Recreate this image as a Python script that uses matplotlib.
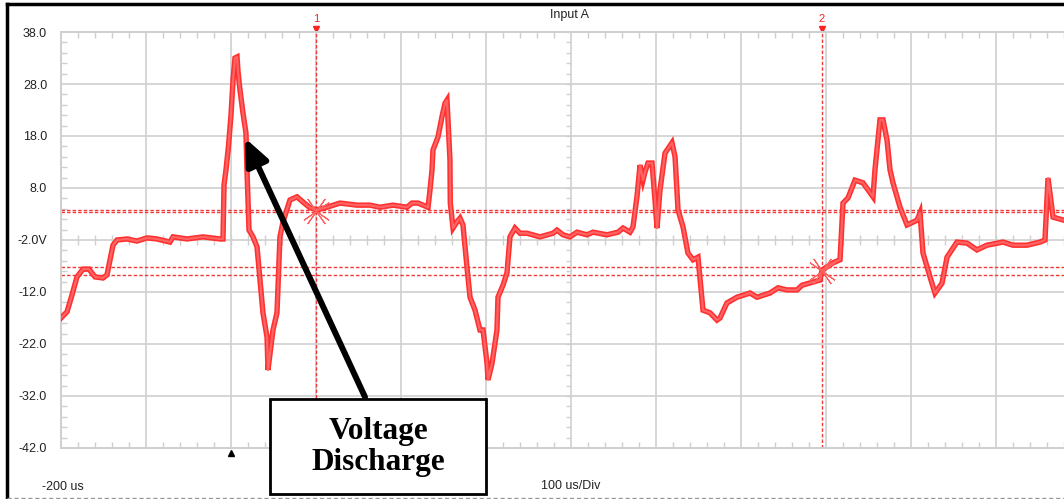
import numpy as np
import matplotlib.pyplot as plt
from matplotlib.lines import Line2D
from matplotlib.patches import Rectangle
from matplotlib.transforms import offset_copy

# ---- trace (time in us, volts) ----
t_us = [-200, -192.9, -187.1, -181.2, -174.1, -167.1, -160, -150.6, -145.9, -138.8,
        -134.1, -122.4, -110.6, -98.8, -87.1, -71.8, -68.2, -51.8, -32.9, -12.9,
        -9.4, -8.2, -5.9, -3.0, 0.0, 1.2, 2.4, 4.7, 7.1, 8.3,
        10.6, 14.1, 17.6, 18.8, 21.2, 25.9, 30.6, 34.1, 37.6, 42.4,
        43.5, 49.4, 54.1, 57.6, 61.2, 69.4, 77.6, 84.7, 92.9, 101.2,
        110.6, 128.2, 148.2, 163.5, 175.3, 190.6, 207.1, 212.9, 220, 231.8,
        234.1, 236.5, 237.6, 243.5, 248.2, 251.8, 254.1, 255.3, 257.6, 258.0,
        261.2, 265.9, 269.4, 272.9, 277.6, 281.2, 287.1, 292.9, 296.5, 301.2,
        302.4, 307.1, 312.9, 314.1, 320, 324.7, 328.2, 334.1, 340, 348.2,
        363.5, 378.8, 383.5, 390.6, 398.8, 407.1, 418.8, 425.9, 442.4, 455.3,
        461.2, 469.4, 472.9, 477.6, 481.2, 484.7, 487.1, 490.6, 495.3, 498.8,
        501.2, 504.7, 510.6, 518.8, 522.4, 525.9, 531.8, 537.6, 543.5, 549.4,
        555.3, 563.5, 571.8, 575.3, 583.5, 595.3, 610.6, 618.8, 634.1, 643.5,
        654.1, 665.9, 671.8, 684.7, 692.9, 695.3, 708.2, 716.5, 720, 725.9,
        734.1, 743.5, 755.3, 757.6, 763.5, 767.1, 771.8, 775.3, 778.8, 787.1,
        795.3, 807.1, 810.6, 814.1, 822.4, 828.2, 836.5, 842.4, 854.1, 865.9,
        877.6, 889.4, 908.2, 920, 936.5, 951.8, 957.6, 961.2, 967.1, 980]
v_volts = [-17.0, -15.8, -12.6, -9.1, -7.6, -7.6, -9.1, -9.3, -8.7, -3.0,
           -2.0, -1.8, -2.2, -1.6, -1.8, -2.4, -1.4, -1.8, -1.4, -1.8,
           -1.8, 8.6, 11.5, 16.0, 22.0, 25.5, 28.8, 33.0, 33.2, 30.3,
           26.8, 22.4, 18.6, 11.5, -0.1, -1.4, -3.3, -9.7, -16.0, -20.7,
           -27.0, -19.3, -16.0, -1.4, 1.5, 5.7, 6.3, 5.3, 4.2, 3.8,
           4.2, 5.1, 4.7, 4.7, 4.3, 4.7, 4.3, 5.1, 5.1, 4.3,
           7.6, 11.5, 15.3, 17.8, 21.7, 24.3, 24.9, 21.1, 13.4, 5.1,
           0.3, 1.5, 2.2, 0.9, -7.2, -13.0, -15.5, -19.3, -19.3, -25.7,
           -28.9, -25.7, -19.3, -13.0, -10.7, -8.3, -1.4, 0.3, -0.7, -0.7,
           -1.4, -0.7, -0.1, -1.0, -1.4, -0.5, -1.0, -0.5, -1.0, -0.5,
           0.3, -0.5, 0.5, 6.3, 12.4, 9.5, 11.1, 12.8, 12.8, 5.7,
           0.3, 7.6, 14.7, 16.7, 14.0, 3.8, 0.5, -4.5, -5.8, -5.3,
           -15.5, -16.0, -17.4, -17.0, -14.1, -13.0, -12.2, -13.0, -12.2, -11.2,
           -11.6, -11.6, -10.7, -10.1, -9.7, -7.8, -6.4, -5.8, 5.1, 6.1,
           9.5, 9.0, 6.3, 11.5, 21.1, 21.1, 17.2, 11.5, 9.0, 4.3,
           0.9, 1.8, 3.2, -4.5, -9.1, -12.2, -10.3, -5.3, -2.4, -2.6,
           -3.9, -3.0, -2.4, -3.0, -3.0, -2.4, -2.0, 9.9, 2.4, 1.8]

y_ticks = [38, 28, 18, 8, -2, -12, -22, -32, -42]
y_labels = ['38.0', '28.0', '18.0', '8.0', '-2.0V', '-12.0', '-22.0', '-32.0', '-42.0']
cursor_names = ['1', '2']
cursor_t = [100, 695]
cursor_v = [3.6, -7.9]
cursor_levels = [3.8, 3.4, -7.2, -8.7]
t_min, t_max = -200, 980
v_min, v_max = -42, 38

GRID = '#CFCFCF'
TRACE = '#FF3030'
CURSOR = '#EE3A3A'

W, H = 1064, 499
fig = plt.figure(figsize=(W / 100, H / 100), dpi=100)
ax = fig.add_axes([61 / W, 1 - 448 / H, (W - 61) / W, 416 / H])
ax.set_xlim(t_min, t_max)
ax.set_ylim(v_min, v_max)

for side in ['left', 'top', 'bottom']:
    ax.spines[side].set_color(GRID)
    ax.spines[side].set_linewidth(1.4)
ax.spines['right'].set_visible(False)

ax.set_xticks(np.arange(t_min, t_max + 1, 100))
ax.set_xticks(np.arange(t_min, t_max + 1, 20), minor=True)
ax.set_yticks(y_ticks, y_labels)
ax.set_yticks(np.arange(v_min, v_max + 1, 2), minor=True)
ax.tick_params(axis='x', which='major', length=0, labelbottom=False)
ax.tick_params(axis='x', which='minor', direction='in', length=4, width=1,
               top=True, bottom=True, color=GRID)
ax.tick_params(axis='y', which='major', length=0, pad=10, labelsize=9,
               labelcolor='#222222')
ax.tick_params(axis='y', which='minor', direction='in', length=4, width=1,
               left=True, right=False, color=GRID)
for lab in ax.get_yticklabels():
    lab.set_fontfamily('Liberation Sans')
ax.grid(which='major', color=GRID, lw=1.2)
ax.set_axisbelow(True)

# centre cross ticks
xt = np.arange(t_min, t_max + 1, 20)
ax.plot(xt, np.full(len(xt), -2), ls='none', marker='|', ms=7, mew=1, color=GRID)
yt = np.arange(v_min, v_max + 1, 2)
ax.plot(np.full(len(yt), 400), yt, ls='none', marker=[(-1, 0), (0, 0)], ms=7.5,
        mew=1, color=GRID)

# cursors
for lv in cursor_levels:
    ax.axhline(lv, color=CURSOR, lw=1, ls=(0, (2.5, 1.5)), zorder=2)
for name, tc in zip(cursor_names, cursor_t):
    ax.axvline(tc, color=CURSOR, lw=1, ls=(0, (2.5, 1.5)), zorder=2)
    ax.plot([tc], [v_max], marker='v', ms=5, color='#FF2020', clip_on=False,
            transform=offset_copy(ax.transData, fig=fig, y=3, units='dots'))
    ax.annotate(name, (tc, v_max), xytext=(0, 6), textcoords='offset points',
                ha='center', va='bottom', color='#FF2020', fontsize=8,
                family='Liberation Sans', annotation_clip=False)

# trace (outline + lighter core, like the min/max envelope on the scope)
ax.plot(t_us, v_volts, color=TRACE, lw=3.9, solid_joinstyle='miter', zorder=3)
ax.plot(t_us, v_volts, color='#FF6464', lw=1.6, zorder=3)

for tc, vc in zip(cursor_t, cursor_v):
    for ang in (35, 55):
        ax.plot([tc], [vc], marker=(4, 2, ang), ms=22, mew=0.8, color='#FF6060',
                zorder=4)

# trigger marker
ax.plot([0], [v_min], marker='^', ms=4, color='black', clip_on=False,
        transform=offset_copy(ax.transData, fig=fig, y=-5, units='dots'))

fig.text(570 / W, 1 - 15 / H, 'Input A', ha='center', va='center', fontsize=9,
         family='Liberation Sans', color='#222222')
fig.text(42 / W, 1 - 487 / H, '-200 us', ha='left', va='center', fontsize=9,
         family='Liberation Sans', color='#222222')
fig.text(571 / W, 1 - 486 / H, '100 us/Div', ha='center', va='center', fontsize=9,
         family='Liberation Sans', color='#222222')

# outer frame of the screenshot
fig.add_artist(Line2D([7 / W, 1], [1 - 4 / H] * 2, color='black', lw=2.5))
fig.add_artist(Line2D([7 / W] * 2, [1 - 4 / H, 1 - 497 / H], color='black', lw=2.5))
fig.add_artist(Line2D([7 / W, 1], [1 - 498 / H] * 2, color='#999999', lw=1,
                      ls=(0, (3, 2))))

# annotation
ax.annotate('', xy=(16.5, 17.6), xycoords='data',
            xytext=(365 / W, 1 - 397 / H), textcoords='figure fraction',
            arrowprops=dict(arrowstyle='-|>,head_length=0.8,head_width=0.35',
                            mutation_scale=20, lw=4.3, color='black',
                            shrinkA=0, shrinkB=0),
            zorder=6, annotation_clip=False)
fig.add_artist(Rectangle((270 / W, 1 - 494 / H), 216 / W, 95 / H,
                         transform=fig.transFigure, facecolor='white',
                         edgecolor='black', lw=2, zorder=7))
fig.text(378 / W, 1 - 447 / H, 'Voltage\nDischarge', ha='center', va='center',
         fontsize=22.5, family='Liberation Serif', weight='bold',
         linespacing=1.1, zorder=8)

plt.savefig('out.png', dpi=100)
